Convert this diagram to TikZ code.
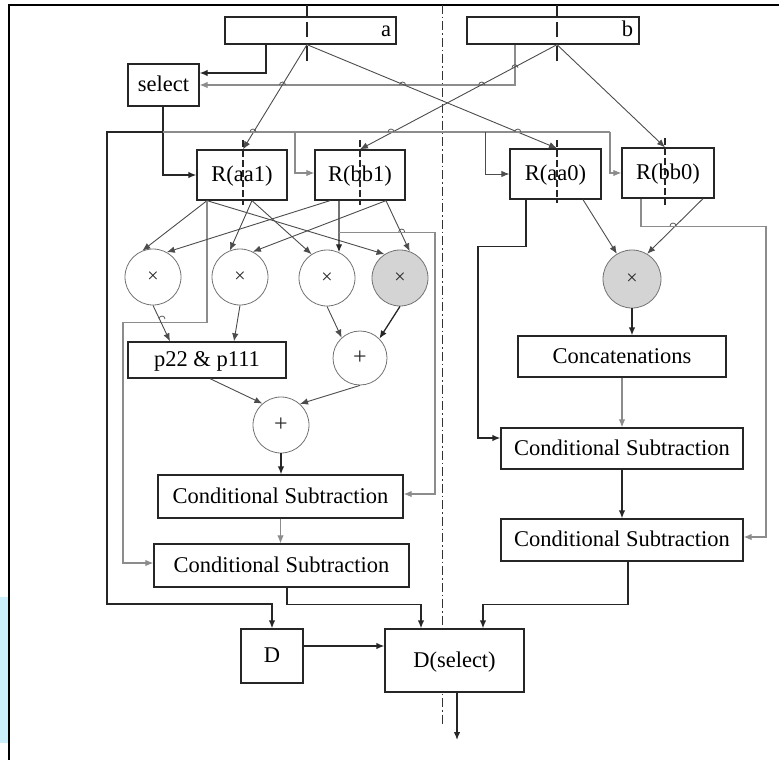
\documentclass[tikz,border=0pt]{standalone}
\usepackage{fontspec}
\setmainfont{Liberation Serif}
\usetikzlibrary{arrows.meta}
\begin{document}
\begin{tikzpicture}[x=1pt,y=-1pt,
  box/.style={draw=black!85, line width=1.3pt, fill=white, inner sep=0pt, font=\fontsize{22.5}{27}\selectfont, text height=16pt, text depth=3pt},
  op/.style={circle, draw=black!55, line width=0.8pt, fill=white, minimum size=56pt, inner sep=0pt, font=\fontsize{20}{20}\selectfont, text=black!85},
  opg/.style={op, fill=black!17},
  plusop/.style={op, font=\fontsize{24}{24}\selectfont},
  blk/.style={draw=black!85, line width=1.3pt},
  dk/.style={draw=black!70, line width=0.9pt},
  gr/.style={draw=black!45, line width=1.1pt},
  arr/.style={-{Latex[length=8pt,width=6.5pt]}},
  cutdash/.style={draw=black!85, line width=1.2pt, dash pattern=on 7pt off 3pt},
  hopline/.style={draw=black!65, line width=0.8pt}
]
\useasboundingbox (0,0) rectangle (779,760);
% frame, margin tint and divider
\fill[cyan!20] (0,597) rectangle (8,743);
\draw[black, line width=2pt] (9,760) -- (9,5) -- (779,5);
\draw[black!80, line width=0.9pt, dash pattern=on 9pt off 3pt on 1.5pt off 3pt] (442,5) -- (442,726);

% nodes
\node[box, minimum width=171pt, minimum height=27pt] (a) at (310.5,30.5) {\makebox[161pt][r]{a}};
\node[box, minimum width=172pt, minimum height=27pt] (b) at (553,30.5) {\makebox[160pt][r]{b}};
\node[box, minimum width=71pt, minimum height=42pt] (sel) at (163.5,85) {select};
\node[box, minimum width=90pt, minimum height=50pt] (aa1) at (242,175) {R(aa1)};
\node[box, minimum width=90pt, minimum height=50pt] (bb1) at (360,175) {R(bb1)};
\node[box, minimum width=91pt, minimum height=50pt] (aa0) at (555.5,174) {R(aa0)};
\node[box, minimum width=92pt, minimum height=50pt] (bb0) at (668,173) {R(bb0)};
\node[op] (c1) at (153,277) {×};
\node[op] (c2) at (240,277) {×};
\node[op] (c3) at (327,278) {×};
\node[opg] (c4) at (400,278) {×};
\node[plusop, minimum size=54pt] (p1) at (360,358) {+};
\node[plusop] (p2) at (281,425) {+};
\node[opg, minimum size=58pt] (cr) at (632,279) {×};
\node[box, minimum width=158pt, minimum height=36pt] (pp) at (207,360) {p22 \& p111};
\node[box, minimum width=208pt, minimum height=41pt] (cat) at (622,356.5) {Concatenations};
\node[box, minimum width=245pt, minimum height=43pt] (cs1) at (280.5,496.5) {Conditional Subtraction};
\node[box, minimum width=255pt, minimum height=43pt] (cs2) at (281.5,565.5) {Conditional Subtraction};
\node[box, minimum width=242pt, minimum height=41pt] (cs3) at (622,448.5) {Conditional Subtraction};
\node[box, minimum width=242pt, minimum height=42pt] (cs4) at (622,540) {Conditional Subtraction};
\node[box, minimum width=62pt, minimum height=54pt] (D) at (272,656) {D};
\node[box, minimum width=139pt, minimum height=63pt] (ds) at (454.5,660.5) {D(select)};

% top ticks
\coordinate (ta) at (307,5);
\coordinate (tb) at (557,5);
\draw[blk] (ta) -- (ta |- a.north);
\draw[blk] (tb) -- (tb |- b.north);

% a / b outputs
\draw[blk,arr] ([xshift=-44.5pt]a.south) |- ([yshift=12pt]sel.east);
\draw[gr,arr] ([xshift=-38pt]b.south) |- (sel.east);
\draw[dk,arr] ([xshift=-3.5pt]a.south) -- ([xshift=1pt]aa1.north);
\draw[dk,arr] ([xshift=-3.5pt]a.south) -- ([xshift=1.5pt]aa0.north);
\draw[dk,arr] ([xshift=4pt]b.south) -- (bb1.north);
\draw[dk,arr] ([xshift=4pt]b.south) -- ([xshift=-3pt]bb0.north);

% select distribution
\draw[blk,arr] ([xshift=-0.5pt]sel.south) |- (aa1.west);
\coordinate (j0) at (163,132);
\coordinate (j1) at (295,132);
\coordinate (j2) at (485,132);
\coordinate (j3) at (610,132);
\coordinate (jL) at (107,132);
\coordinate (jD) at (107,604);
\draw[gr] (j0) -- (j3);
\draw[blk,arr] (j0) -- (jL) -- (jD) -| (D.north);
\draw[gr,arr] (j1) |- ([yshift=2pt]bb1.west);
\draw[dk,arr] (j2) |- (aa0.west);
\draw[gr,arr] (j3) |- (bb0.west);

% R(aa1) outputs
\coordinate (aL) at ([xshift=-35pt]aa1.south);
\coordinate (aR) at ([xshift=10pt]aa1.south);
\draw[dk,arr] (aL) -- (c1.112);
\draw[dk,arr] (aL) -- (c4.123);
\draw[dk,arr] (aR) -- (c2.111);
\draw[dk,arr] (aR) -- (c3.123);
\draw[gr,arr] (aL) -- ++(0,122) -- ++(-84,0) |- ([yshift=2.5pt]cs2.west);

% R(bb1) outputs
\coordinate (bL) at ([xshift=-30pt]bb1.south);
\coordinate (bV) at ([xshift=-21pt]bb1.south);
\coordinate (bR) at ([xshift=26pt]bb1.south);
\draw[dk,arr] (bL) -- (c1.61);
\draw[blk,arr] (bV) -- (c3.65);
\draw[dk,arr] (bR) -- (c2.63);
\draw[dk,arr] (bR) -- (c4.70);
\draw[gr,arr] ([yshift=-32pt]bV) -- ++(96,0) |- ([yshift=2.5pt]cs1.east);

% left datapath
\draw[dk,arr] (c1.south) -- ([xshift=-37pt]pp.north);
\draw[dk,arr] (c2.south) -- ([xshift=27pt]pp.north);
\draw[dk,arr] (c3.south) -- (p1.132);
\draw[blk,arr] (c4.south) -- (p1.45);
\draw[dk,arr] ([xshift=3pt]pp.south) -- (p2.131);
\draw[dk,arr] (p1.south) -- (p2.48);
\draw[blk,arr] (p2.south) -- (p2.south |- cs1.north);
\draw[gr,arr] (cs1.south) -- (cs1.south |- cs2.north);
\draw[blk,arr] ([xshift=5.5pt]cs2.south) -- ++(0,17) -| ([xshift=-33.5pt]ds.north);

% right datapath
\draw[blk,arr] ([xshift=-29.5pt]aa0.south) -- ++(0,47) -- ++(-48,0) |- ([yshift=10.5pt]cs3.west);
\draw[dk,arr] ([xshift=27.5pt]aa0.south) -- (cr.121);
\draw[dk,arr] ([xshift=35pt]bb0.south) -- (cr.59);
\draw[gr,arr] ([xshift=-27pt]bb0.south) -- ++(0,28) -- ++(125,0) |- ([yshift=3pt]cs4.east);
\draw[blk,arr] (cr.south) -- (cr.south |- cat.north);
\draw[gr,arr] (cat.south) -- (cs3.north);
\draw[blk,arr] (cs3.south) -- (cs4.north);
\draw[blk,arr] ([xshift=6pt]cs4.south) -- ++(0,43) -| ([xshift=28.5pt]ds.north);

% D and output
\coordinate (dp) at ([yshift=10pt]D.east);
\draw[blk,arr] (dp) -- (dp -| ds.west);
\coordinate (out) at (457,740);
\draw[blk,arr] ([xshift=2.5pt]ds.south) -- (out);

% dashed bit markers
\draw[blk, dash pattern=on 15pt off 9pt] (307,22) -- (307,62);
\draw[blk, dash pattern=on 15pt off 9pt] (557,22) -- (557,62);
\foreach \x/\t/\e in {243/140/205, 360/140/205, 557/140/203, 665/138/208}
  \draw[cutdash] (\x,\t) -- (\x,\e);

% crossing hops
\foreach \x/\y in {282.5/85, 253/132, 402.6/85, 517.8/132, 515/67.7, 481.7/85, 391/132, 673/226, 401.7/232, 162/319}
  \draw[hopline] (\x-3,\y) arc[start angle=180, end angle=0, radius=3pt];
\end{tikzpicture}
\end{document}
